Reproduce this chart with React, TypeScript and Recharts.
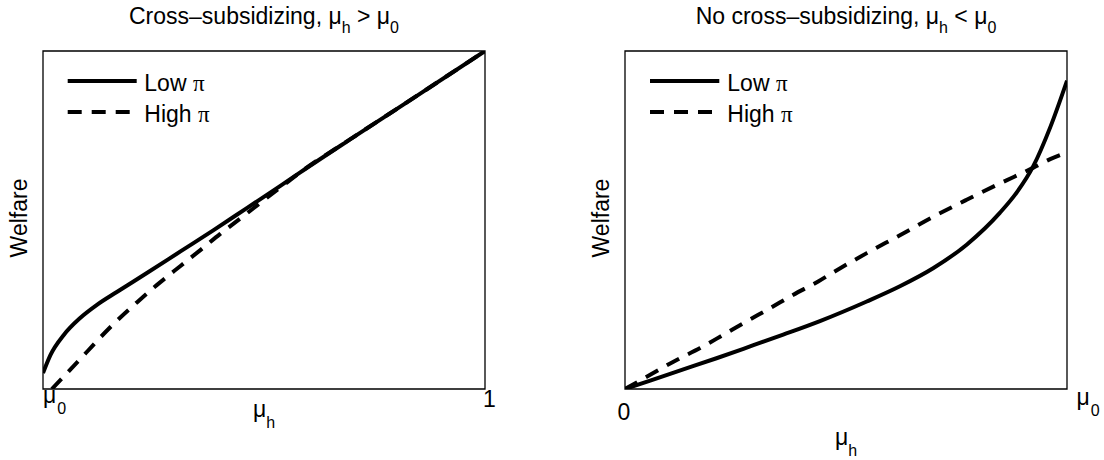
import { Label, Legend, Line, LineChart, ReferenceArea, XAxis, YAxis } from "recharts";

const FONT = "'Liberation Sans', Arial, Helvetica, sans-serif";
const SERIF = "'Liberation Serif', 'DejaVu Serif', serif";

// left panel: cross-subsidizing, mu_h from mu_0 to 1
const LEFT_LOW_X = [0, 0.017, 0.047, 0.084, 0.122, 0.167, 0.235, 0.311, 0.386, 0.462, 0.537, 0.582, 0.7, 0.85, 1];
const LEFT_LOW_Y = [0.047, 0.101, 0.16, 0.21, 0.249, 0.287, 0.343, 0.407, 0.47, 0.536, 0.601, 0.641, 0.743, 0.871, 1];
const LEFT_HIGH_X = [0.02, 0.047, 0.084, 0.122, 0.16, 0.213, 0.258, 0.311, 0.356, 0.401, 0.454, 0.499, 0.544, 0.582, 0.7, 0.85, 1];
const LEFT_HIGH_Y = [0, 0.037, 0.088, 0.142, 0.193, 0.257, 0.308, 0.364, 0.411, 0.459, 0.512, 0.558, 0.603, 0.641, 0.743, 0.871, 1];

// right panel: no cross-subsidizing, mu_h from 0 to mu_0
const RIGHT_LOW_X = [0, 0.057, 0.132, 0.207, 0.283, 0.358, 0.441, 0.547, 0.622, 0.698, 0.773, 0.848, 0.886, 0.924, 0.962, 1];
const RIGHT_LOW_Y = [0, 0.025, 0.058, 0.091, 0.126, 0.161, 0.201, 0.259, 0.304, 0.358, 0.427, 0.521, 0.581, 0.66, 0.774, 0.912];
const RIGHT_HIGH_X = [0, 0.057, 0.117, 0.17, 0.222, 0.275, 0.328, 0.381, 0.437, 0.471, 0.547, 0.622, 0.698, 0.773, 0.848, 0.924, 0.962, 1];
const RIGHT_HIGH_Y = [0, 0.042, 0.086, 0.121, 0.16, 0.2, 0.239, 0.279, 0.318, 0.345, 0.402, 0.455, 0.51, 0.56, 0.608, 0.655, 0.68, 0.7];

const TICKS = [0, 1];
const LEFT_TICK_TEXT = [["μ", "0"], ["1", ""]];
const RIGHT_TICK_TEXT = [["0", ""], ["μ", "0"]];
const SERIES_NAMES = ["Low", "High"];

const rows = (xs: number[], ys: number[]) => xs.map((x, i) => ({ x, y: ys[i] }));

type TickPos = { dx: number; dy: number; anchor: "start" | "middle" };

function TickText({ x, y, payload, text, pos }: any) {
  const i = TICKS.indexOf(payload.value);
  const [main, sub] = text[i];
  const p: TickPos = pos[i];
  return (
    <text x={x + p.dx} y={y + p.dy} textAnchor={p.anchor} fontFamily={FONT} fontSize={23} fill="#000">
      <tspan>{main}</tspan>
      {sub ? (
        <tspan fontSize={16} dx={1} dy={11}>
          {sub}
        </tspan>
      ) : null}
    </text>
  );
}

function PanelText({ viewBox, title, xlabDy }: any) {
  const { x, y, width, height } = viewBox;
  const cx = x + width / 2;
  return (
    <g fontFamily={FONT} fill="#000">
      <text x={cx} y={y - 27} textAnchor="middle" fontSize={23}>
        <tspan>{title[0]}μ</tspan>
        <tspan fontSize={16} dy={9}>h</tspan>
        <tspan dy={-9}>{title[1]}μ</tspan>
        <tspan fontSize={16} dy={9}>0</tspan>
      </text>
      <text
        x={x - 16}
        y={y + height / 2 - 2}
        textAnchor="middle"
        fontSize={23}
        transform={`rotate(-90 ${x - 16} ${y + height / 2 - 2})`}
      >
        Welfare
      </text>
      <text x={cx} y={y + height + xlabDy} textAnchor="middle" fontSize={23}>
        <tspan>μ</tspan>
        <tspan fontSize={16} dy={11}>h</tspan>
      </text>
    </g>
  );
}

function LegendBox({ x0, x1, tx }: { x0: number; x1: number; tx: number }) {
  const ys = [21, 52];
  return (
    <svg width={300} height={70} style={{ display: "block" }}>
      {SERIES_NAMES.map((n, i) => (
        <g key={n}>
          <line
            x1={x0}
            x2={x1}
            y1={ys[i]}
            y2={ys[i]}
            stroke="#000"
            strokeWidth={4}
            strokeDasharray={i === 1 ? "14 10" : undefined}
          />
          <text x={tx} y={ys[i] + 9.5} fontFamily={FONT} fontSize={23} fill="#000">
            {n} <tspan fontFamily={SERIF}>π</tspan>
          </text>
        </g>
      ))}
    </svg>
  );
}

type PanelProps = {
  low: { x: number; y: number }[];
  high: { x: number; y: number }[];
  marginLeft: number;
  marginRight: number;
  tickText: string[][];
  tickPos: TickPos[];
  title: string[];
  xlabDy: number;
  legend: { x0: number; x1: number; tx: number };
};

function Panel(p: PanelProps) {
  return (
    <LineChart
      width={552}
      height={460}
      margin={{ top: 51, right: p.marginRight, bottom: 41, left: p.marginLeft }}
    >
      <XAxis
        dataKey="x"
        type="number"
        domain={[0, 1]}
        ticks={TICKS}
        interval={0}
        allowDataOverflow
        height={30}
        axisLine={false}
        tickLine={false}
        tickSize={0}
        tickMargin={0}
        tick={(props: any) => <TickText {...props} text={p.tickText} pos={p.tickPos} />}
      />
      <YAxis type="number" domain={[0, 1]} allowDataOverflow hide />
      <ReferenceArea x1={0} x2={1} y1={0} y2={1} fill="none" stroke="#000" strokeWidth={1.3} ifOverflow="visible">
        <Label content={(props: any) => <PanelText {...props} title={p.title} xlabDy={p.xlabDy} />} />
      </ReferenceArea>
      <Line
        data={p.low}
        dataKey="y"
        name="Low π"
        type="monotone"
        stroke="#000"
        strokeWidth={4}
        dot={false}
        isAnimationActive={false}
      />
      <Line
        data={p.high}
        dataKey="y"
        name="High π"
        type="monotone"
        stroke="#000"
        strokeWidth={4}
        strokeDasharray="14 10"
        dot={false}
        isAnimationActive={false}
      />
      <Legend
        layout="vertical"
        align="center"
        verticalAlign="middle"
        wrapperStyle={{ left: 0, top: 60, width: 300, height: 70 }}
        content={() => <LegendBox {...p.legend} />}
      />
    </LineChart>
  );
}

export default function App() {
  return (
    <div style={{ position: "absolute", left: 0, top: 0, width: 1104, height: 460, background: "#fff" }}>
      <div style={{ position: "absolute", left: 0, top: 0 }}>
        <Panel
          low={rows(LEFT_LOW_X, LEFT_LOW_Y)}
          high={rows(LEFT_HIGH_X, LEFT_HIGH_Y)}
          marginLeft={43}
          marginRight={67}
          tickText={LEFT_TICK_TEXT}
          tickPos={[
            { dx: 0, dy: 14, anchor: "start" },
            { dx: 4.5, dy: 18, anchor: "middle" },
          ]}
          title={["Cross–subsidizing, ", " > "]}
          xlabDy={28}
          legend={{ x0: 67.7, x1: 136.7, tx: 144.3 }}
        />
      </div>
      <div style={{ position: "absolute", left: 552, top: 0 }}>
        <Panel
          low={rows(RIGHT_LOW_X, RIGHT_LOW_Y)}
          high={rows(RIGHT_HIGH_X, RIGHT_HIGH_Y)}
          marginLeft={73}
          marginRight={37}
          tickText={RIGHT_TICK_TEXT}
          tickPos={[
            { dx: -1, dy: 31, anchor: "middle" },
            { dx: 9.5, dy: 16, anchor: "start" },
          ]}
          title={["No cross–subsidizing, ", " < "]}
          xlabDy={56}
          legend={{ x0: 98, x1: 167.3, tx: 175.3 }}
        />
      </div>
    </div>
  );
}
